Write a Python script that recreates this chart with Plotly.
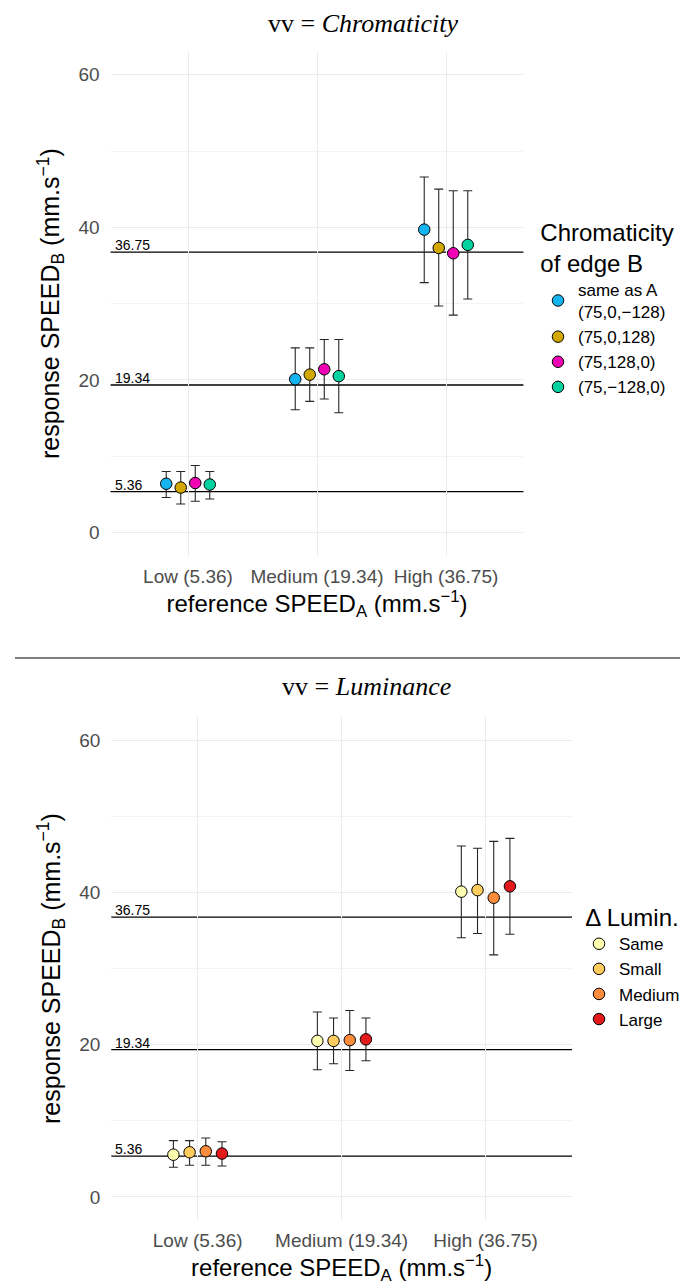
import plotly.graph_objects as go
from plotly.subplots import make_subplots

# ---------------- data ----------------
speed_levels = ["Low (5.36)", "Medium (19.34)", "High (36.75)"]
ref_speeds = [5.36, 19.34, 36.75]

chroma_groups = ["same as A<br>(75,0,\u2212128)", "(75,0,128)", "(75,128,0)", "(75,\u2212128,0)"]
chroma_colors = ["#14B4F0", "#D2A800", "#F000B4", "#00D2A0"]
chroma_mean = [[6.4, 20.1, 39.7], [5.9, 20.7, 37.3], [6.5, 21.4, 36.6], [6.3, 20.5, 37.7]]
chroma_low = [[4.6, 16.1, 32.75], [3.75, 17.2, 29.7], [4.1, 17.5, 28.5], [4.4, 15.7, 30.6]]
chroma_high = [[8.0, 24.2, 46.6], [8.0, 24.2, 45.0], [8.8, 25.3, 44.8], [8.0, 25.3, 44.8]]

lum_groups = ["Same", "Small", "Medium", "Large"]
lum_colors = ["#FFFFB2", "#FECC5C", "#FD8D3C", "#E31A1C"]
lum_mean = [[5.55, 20.5, 40.1], [5.87, 20.5, 40.3], [6.0, 20.6, 39.3], [5.7, 20.7, 40.8]]
lum_low = [[3.9, 16.7, 34.05], [4.16, 17.5, 34.6], [4.16, 16.6, 31.8], [4.07, 17.9, 34.5]]
lum_high = [[7.4, 24.3, 46.1], [7.4, 23.5, 45.8], [7.75, 24.5, 46.7], [7.26, 23.5, 47.1]]

y_ticks = [0, 20, 40, 60]

# ---------------- figure ----------------
W, H = 688, 1286
fig = make_subplots(rows=2, cols=1)

def add_panel(row, groups, colors, means, lows, highs, legend_name):
    for g, c, m, lo, hi in zip(groups, colors, means, lows, highs):
        fig.add_trace(go.Scatter(
            x=speed_levels, y=m, name=g, mode="markers",
            legend=legend_name,
            marker=dict(color=c, size=11.5, line=dict(color="black", width=1)),
            error_y=dict(type="data", symmetric=False,
                         array=[h - v for h, v in zip(hi, m)],
                         arrayminus=[v - l for v, l in zip(m, lo)],
                         color="#262626", thickness=1.1, width=4.5),
        ), row=row, col=1)
    for v in ref_speeds:
        fig.add_hline(y=v, row=row, col=1, line=dict(color="black", width=1.3),
                      layer="below",
                      annotation_text=f"{v}", annotation_position="top left",
                      annotation=dict(font=dict(size=14, color="black"), yshift=-3, xshift=2))

add_panel(1, chroma_groups, chroma_colors, chroma_mean, chroma_low, chroma_high, "legend")
add_panel(2, lum_groups, lum_colors, lum_mean, lum_low, lum_high, "legend2")

grid = "#EBEBEB"
axis_common_x = dict(type="category", categoryorder="array", categoryarray=speed_levels,
                     range=[-0.6, 2.6], showgrid=True, gridcolor=grid, gridwidth=1.1,
                     zeroline=False, showline=False, ticks="", ticklabelstandoff=7,
                     tickfont=dict(size=19, color="#4D4D4D"),
                     title=dict(text="reference SPEED<sub>A</sub> (mm.s<sup>\u22121</sup>)",
                                font=dict(size=24, color="black"), standoff=9))
axis_common_y = dict(range=[-3, 63], tickvals=y_ticks, showgrid=True, gridcolor=grid,
                     gridwidth=1.1, zeroline=False, showline=False, ticks="",
                     ticklabelstandoff=10,
                     minor=dict(dtick=10, tick0=0, showgrid=True, gridcolor="#F3F3F3", gridwidth=0.6),
                     tickfont=dict(size=19, color="#4D4D4D"),
                     title=dict(text="response SPEED<sub>B</sub> (mm.s<sup>\u22121</sup>)",
                                font=dict(size=25, color="black"), standoff=11))

def px_x(p):
    return p / W

def px_y(p):
    return 1 - p / H

fig.update_layout(
    xaxis=dict(axis_common_x, domain=[px_x(102.6), px_x(515.4)], anchor="y"),
    yaxis=dict(axis_common_y, domain=[px_y(547.5), px_y(43.8)], anchor="x"),
    xaxis2=dict(axis_common_x, domain=[px_x(103.3), px_x(564.0)], anchor="y2"),
    yaxis2=dict(axis_common_y, domain=[px_y(1211.8), px_y(709.3)], anchor="x2"),
)

fig.update_layout(
    width=W, height=H, autosize=False,
    margin=dict(l=0, r=0, t=0, b=0),
    paper_bgcolor="white", plot_bgcolor="white",
    font=dict(family="Liberation Sans, Arial, sans-serif", color="black"),
    scattermode="group", scattergap=0.55,
    legend=dict(x=px_x(530), y=px_y(299), xanchor="left", yanchor="middle",
                title=dict(text="Chromaticity<br>of edge B", side="top center",
                           font=dict(size=24, color="black")),
                font=dict(size=17, color="black"), tracegroupgap=0,
                bgcolor="rgba(0,0,0,0)", itemclick=False),
    legend2=dict(x=px_x(571), y=px_y(958), xanchor="left", yanchor="middle",
                 title=dict(text="\u0394 Lumin.", side="top center",
                            font=dict(size=24, color="black")),
                 font=dict(size=17, color="black"), tracegroupgap=0,
                 bgcolor="rgba(0,0,0,0)", itemclick=False),
    showlegend=True,
)

# panel titles
fig.add_annotation(text="vv = <i>Chromaticity</i>", xref="paper", yref="paper",
                   x=px_x(355), y=px_y(15), xanchor="center", yanchor="middle",
                   showarrow=False, font=dict(family="Liberation Serif, serif", size=26, color="black"))
fig.add_annotation(text="vv = <i>Luminance</i>", xref="paper", yref="paper",
                   x=px_x(358), y=px_y(678), xanchor="center", yanchor="middle",
                   showarrow=False, font=dict(family="Liberation Serif, serif", size=26, color="black"))

# separator between the two panels
fig.add_shape(type="line", xref="paper", yref="paper", x0=px_x(7), x1=1.0,
              y0=px_y(650), y1=px_y(650), line=dict(color="#555555", width=1.4))

fig.write_html("out.html")
